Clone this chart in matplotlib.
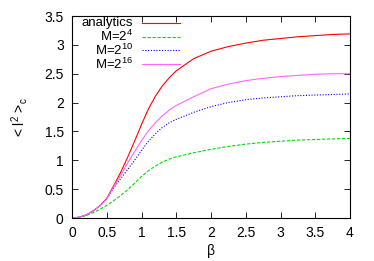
import matplotlib
matplotlib.use("Agg")
import matplotlib.pyplot as plt
from matplotlib.lines import Line2D

beta = [0, 0.1, 0.2, 0.3, 0.4, 0.5, 0.6, 0.7, 0.8, 0.9, 1.0, 1.1, 1.2, 1.3, 1.4, 1.5,
        1.75, 2.0, 2.25, 2.5, 2.75, 3.0, 3.25, 3.5, 3.75, 4.0]
analytics = [0, 0.013, 0.05, 0.12, 0.21, 0.34, 0.56, 0.79, 1.05, 1.33, 1.62, 1.89, 2.11, 2.29, 2.43, 2.55,
             2.76, 2.89, 2.97, 3.03, 3.08, 3.11, 3.14, 3.16, 3.18, 3.19]
m4 = [0, 0.012, 0.04, 0.09, 0.15, 0.22, 0.30, 0.39, 0.49, 0.60, 0.72, 0.82, 0.90, 0.97, 1.02, 1.06,
      1.13, 1.19, 1.24, 1.28, 1.31, 1.33, 1.35, 1.36, 1.37, 1.38]
m10 = [0, 0.013, 0.05, 0.12, 0.21, 0.33, 0.52, 0.68, 0.84, 1.00, 1.17, 1.33, 1.46, 1.57, 1.65, 1.71,
       1.83, 1.93, 2.00, 2.05, 2.08, 2.10, 2.12, 2.13, 2.14, 2.15]
m16 = [0, 0.013, 0.05, 0.12, 0.21, 0.33, 0.54, 0.74, 0.95, 1.15, 1.34, 1.51, 1.65, 1.77, 1.87, 1.95,
       2.10, 2.24, 2.32, 2.38, 2.42, 2.45, 2.47, 2.49, 2.50, 2.50]
labels = ["analytics", r"M=2$^{4}$", r"M=2$^{10}$", r"M=2$^{16}$"]

xticks = [0, 0.5, 1, 1.5, 2, 2.5, 3, 3.5, 4]
xticklabels = ["0", "0.5", "1", "1.5", "2", "2.5", "3", "3.5", "4"]
yticks = [0, 0.5, 1, 1.5, 2, 2.5, 3, 3.5]
yticklabels = ["0", "0.5", "1", "1.5", "2", "2.5", "3", "3.5"]

plt.rcParams['font.family'] = ['Liberation Sans', 'DejaVu Sans']
plt.rcParams['mathtext.fontset'] = 'custom'
plt.rcParams['mathtext.rm'] = 'Liberation Sans'
plt.rcParams['mathtext.default'] = 'regular'

fig = plt.figure(figsize=(3.74, 2.61), dpi=100)
ax = fig.add_axes([72/374, 43/261, 278/374, 202/261])

series = [analytics, m4, m10, m16]
colors = ['#ff0000', '#00e000', '#0000ff', '#ff66ff']
styles = ['-', (0, (3, 1.5)), (0, (1, 1.5)), '-']
for vals, c, s in zip(series, colors, styles):
    ax.plot(beta, vals, color=c, lw=0.8, ls=s)

ax.set_xlim(0, 4)
ax.set_ylim(0, 3.5)
ax.set_xticks(xticks)
ax.set_xticklabels(xticklabels)
ax.set_yticks(yticks)
ax.set_yticklabels(yticklabels)
ax.tick_params(direction='in', top=True, right=True, labelsize=10, length=4, width=0.6)
ax.tick_params(axis='x', pad=6)
ax.tick_params(axis='y', pad=6)
for sp in ax.spines.values():
    sp.set_linewidth(0.8)

ax.set_xlabel("β", fontsize=10, labelpad=3)
ax.set_ylabel(r"< l$^{2}$ >$_{c}$", fontsize=10, labelpad=10)

# key (gnuplot style: text right-aligned, sample to the right)
row_y = [0.9668, 0.8985, 0.830, 0.7614]
for lab, c, s, yy in zip(labels, colors, styles, row_y):
    ax.text(0.2194, yy, lab, transform=ax.transAxes, ha='right', va='center', fontsize=9.5)
    ax.add_line(Line2D([0.2518, 0.3885], [yy, yy], transform=ax.transAxes, color=c, lw=0.8, ls=s))

fig.savefig("out.png", dpi=100)
